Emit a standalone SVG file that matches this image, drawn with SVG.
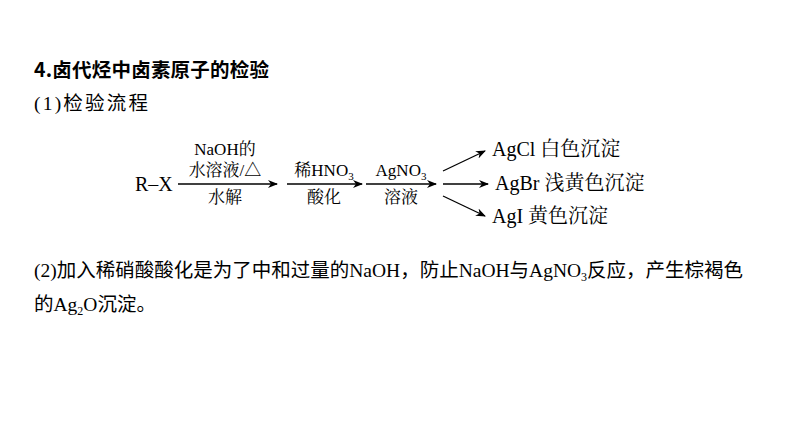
<svg xmlns="http://www.w3.org/2000/svg" width="794" height="447" viewBox="0 0 794 447">
<defs><marker id="ah" markerWidth="10" markerHeight="8" refX="9" refY="4" orient="auto" markerUnits="userSpaceOnUse"><path d="M0,0 L10,4 L0,8 L3,4 Z" fill="#000"/></marker></defs>
<style>
.s{font-family:"Noto Sans CJK SC",sans-serif;font-size:19.5px;fill:#000}
.r{font-family:"Liberation Serif","Noto Serif CJK SC","Noto Sans CJK SC",serif;font-size:17px;fill:#000}
.big{font-size:20px}
.m{text-anchor:middle}
.l{stroke:#000;stroke-width:1.3;fill:none;marker-end:url(#ah)}
.t{font-family:"Liberation Serif",serif}
</style>
<rect width="794" height="447" fill="#fff"/>
<text class="s" x="34" y="77" font-weight="bold" textLength="235">4.卤代烃中卤素原子的检验</text>
<text class="s" x="34" y="110" textLength="114"><tspan class="t">(1)</tspan>检验流程</text>
<g id="rx"><text class="r big" x="135" y="191">R–X</text></g>
<g id="connectors">
<line class="l" x1="178" y1="184" x2="277" y2="184"/>
<line class="l" x1="287" y1="184" x2="362" y2="184"/>
<line class="l" x1="366" y1="184" x2="436" y2="184"/>
<line class="l" x1="443" y1="171" x2="485" y2="151"/>
<line class="l" x1="443" y1="184" x2="488" y2="184"/>
<line class="l" x1="443" y1="196" x2="485" y2="216"/>
</g>
<g id="step1"><text class="r m" x="225" y="155">NaOH的</text><text class="r m" x="225" y="176">水溶液/△</text><text class="r m" x="225" y="203">水解</text></g>
<g id="step2"><text class="r m" x="324" y="176">稀HNO<tspan font-size="11" dy="4">3</tspan></text><text class="r m" x="324" y="203">酸化</text></g>
<g id="step3"><text class="r m" x="401" y="176">AgNO<tspan font-size="11" dy="4">3</tspan></text><text class="r m" x="401" y="203">溶液</text></g>
<g id="agcl"><text class="r big" x="492" y="156">AgCl 白色沉淀</text></g>
<g id="agbr"><text class="r big" x="495" y="190">AgBr 浅黄色沉淀</text></g>
<g id="agi"><text class="r big" x="492" y="223">AgI 黄色沉淀</text></g>
<text class="s" x="34" y="277"><tspan class="t">(2)</tspan>加入稀硝酸酸化是为了中和过量的<tspan class="t">NaOH</tspan>，防止<tspan class="t">NaOH</tspan>与<tspan class="t">AgNO</tspan><tspan class="t" font-size="12" dy="4">3</tspan><tspan dy="-4">反应，产生棕褐色</tspan></text>
<text class="s" x="34" y="311">的<tspan class="t">Ag</tspan><tspan class="t" font-size="12" dy="4">2</tspan><tspan class="t" dy="-4">O</tspan>沉淀。</text>
</svg>
